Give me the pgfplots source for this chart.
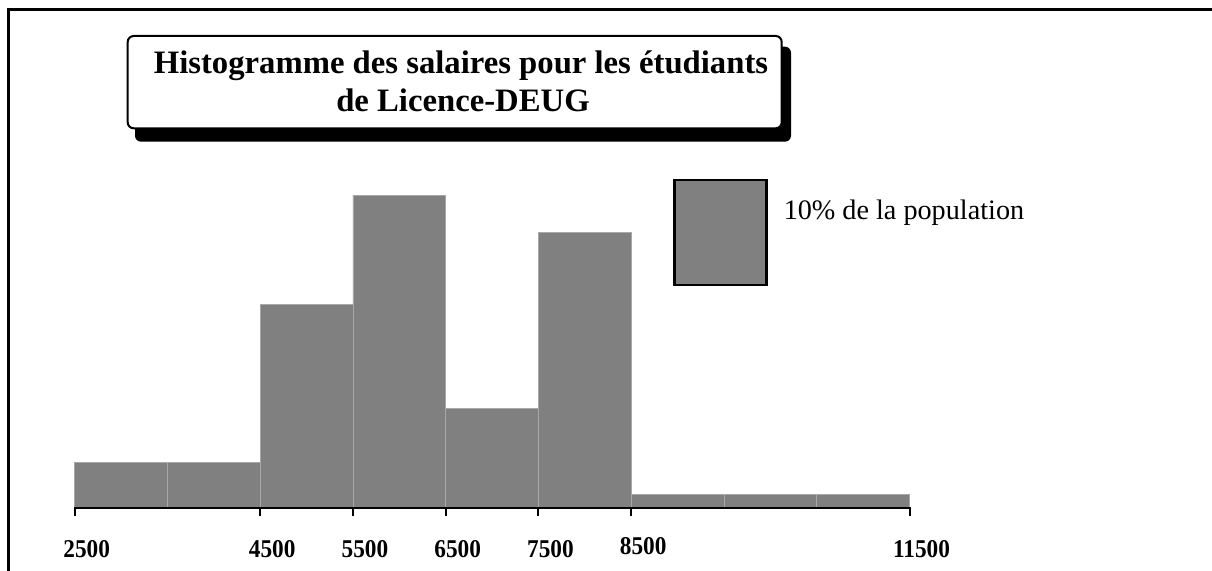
\documentclass[border=0pt]{standalone}
\usepackage{fontspec}
\setmainfont{Liberation Serif}
\newfontfamily\tickfont[FakeStretch=0.91]{Liberation Serif}
\usepackage{pgfplots}
\pgfplotsset{compat=1.18}
\definecolor{barfill}{HTML}{808080}
\definecolor{barsep}{HTML}{A8A8A8}
\begin{document}
\begin{tikzpicture}
\path[use as bounding box] (0pt,0pt) rectangle (606pt,-285.5pt);
% outer frame
\draw[line width=1.35pt] (4.15pt,-285.5pt) -- (4.15pt,-4.65pt) -- (606pt,-4.65pt);
% title box with shadow
\fill[black, rounded corners=3pt] (67.5pt,-23.35pt) rectangle (395.5pt,-70.85pt);
\draw[fill=white, line width=1pt, rounded corners=3pt] (63.85pt,-18pt) rectangle (390.85pt,-64.15pt);
\node[anchor=base, inner sep=0pt, font=\bfseries\fontsize{16.35}{19}\selectfont] at (230.5pt,-37pt) {Histogramme des salaires pour les étudiants};
\node[anchor=base, inner sep=0pt, font=\bfseries\fontsize{16.35}{19}\selectfont] at (231.5pt,-55.85pt) {de Licence-DEUG};
\begin{axis}[
  at={(37.35pt,-254.15pt)}, anchor=south west,
  scale only axis, width=417.4pt, height=210pt,
  xmin=2500, xmax=11500, ymin=0, ymax=40,
  axis x line*=bottom, hide y axis,
  axis line style={line width=1pt, -, black},
  tick style={line width=1pt, black},
  major tick length=4pt, tick align=outside,
  scaled x ticks=false,
  xtick={2500,4500,5500,6500,7500,11500},
  xticklabels={2500,4500,5500,6500,7500,11500},
  extra x ticks={8500},
  extra x tick labels={8500},
  extra x tick style={xticklabel style={yshift=1.7pt}},
  xticklabel style={font=\tickfont\bfseries\fontsize{12.8}{14}\selectfont, anchor=base, xshift=6pt, yshift=-20.85pt, inner sep=0pt},
  clip=false,
]
\addplot[ybar interval, fill=barfill, draw=barsep, line width=0.4pt] coordinates {
  (2500,4.4) (3500,4.4) (4500,19.4) (5500,29.8) (6500,9.5) (7500,26.3)
  (8500,1.35) (9500,1.35) (10500,1.35) (11500,1.35)
};
% baseline of the histogram
\addplot[black, line width=1.1pt, line cap=rect] coordinates {(2500,0) (11500,0)};
% legend key: 10% of the population (one class of width 1000)
\addplot[fill=barfill, draw=black, line width=1.35pt] coordinates {
  (8965,21.27) (9961,21.27) (9961,31.27) (8965,31.27)
} -- cycle;
\node[anchor=base west, inner sep=0pt, font=\fontsize{14.1}{16}\selectfont] at (axis cs:10140,27.52) {10\% de la population};
\end{axis}
\end{tikzpicture}
\end{document}
